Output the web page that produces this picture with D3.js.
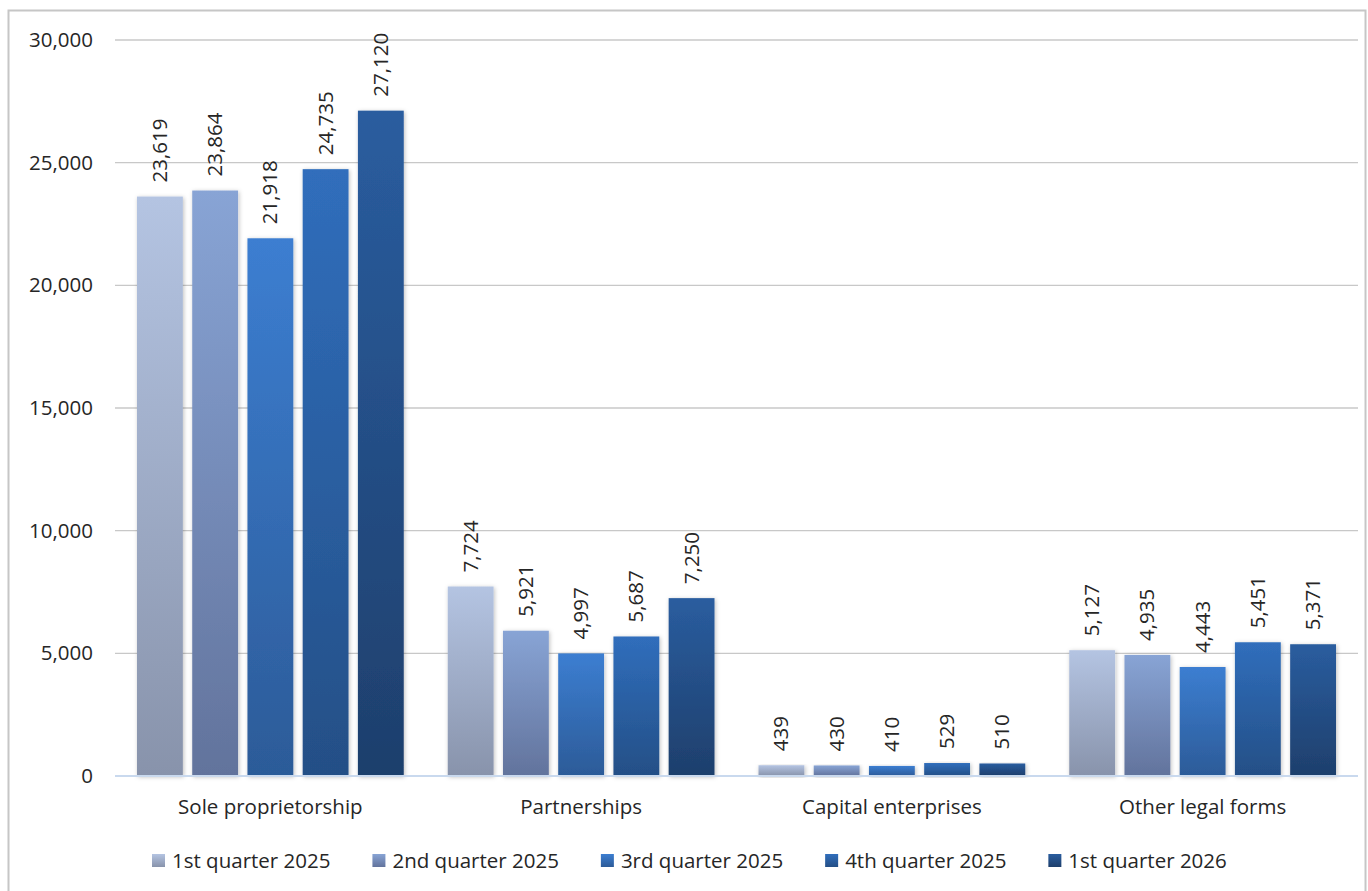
<!DOCTYPE html>
<html>
<head>
<meta charset="utf-8">
<script src="https://cdn.jsdelivr.net/npm/d3@7"></script>
<style>
  body { margin: 0; background: #fff; }
  text { font-family: "Open Sans", "Noto Sans", sans-serif; fill: #262626; }
</style>
</head>
<body>
<svg id="chart" width="1368" height="891"></svg>
<script>
// data
var categories = ["Sole proprietorship", "Partnerships", "Capital enterprises", "Other legal forms"];
var seriesNames = ["1st quarter 2025", "2nd quarter 2025", "3rd quarter 2025", "4th quarter 2025", "1st quarter 2026"];
var q1_2025 = [23619, 7724, 439, 5127];
var q2_2025 = [23864, 5921, 430, 4935];
var q3_2025 = [21918, 4997, 410, 4443];
var q4_2025 = [24735, 5687, 529, 5451];
var q1_2026 = [27120, 7250, 510, 5371];
var yTicks = [0, 5000, 10000, 15000, 20000, 25000, 30000];

var seriesValues = [q1_2025, q2_2025, q3_2025, q4_2025, q1_2026];
// gradient top / bottom per series
var gradTop = ["#b4c4e2", "#88a4d5", "#3c7ed1", "#306ebc", "#2a5d9f"];
var gradBot = ["#8893ab", "#62739c", "#2c5b98", "#244f86", "#1e3f6c"];

var margin = { top: 40, right: 10, bottom: 115, left: 115 },
    width = 1358 - margin.left,
    height = 776 - margin.top;

var svg = d3.select("#chart");
var defs = svg.append("defs");

seriesNames.forEach(function (s, i) {
    var g = defs.append("linearGradient")
        .attr("id", "grad" + i)
        .attr("x1", 0).attr("y1", 0).attr("x2", 0).attr("y2", 1);
    g.append("stop").attr("offset", "0%").attr("stop-color", gradTop[i]);
    g.append("stop").attr("offset", "100%").attr("stop-color", gradBot[i]);
});

var shadow = defs.append("filter").attr("id", "shadow")
    .attr("x", "-30%").attr("y", "-10%").attr("width", "160%").attr("height", "120%");
shadow.append("feDropShadow").attr("dx", 1).attr("dy", 1).attr("stdDeviation", 2)
    .attr("flood-color", "#000").attr("flood-opacity", 0.25);

// frame
svg.append("rect")
    .attr("x", 8.5).attr("y", 10.5)
    .attr("width", 1357).attr("height", 895)
    .attr("fill", "none").attr("stroke", "#c6c6c6").attr("stroke-width", 2);

var chart = svg.append("g")
    .attr("transform", "translate(" + margin.left + "," + margin.top + ")");

var x0 = d3.scaleBand().domain(categories).range([0, width]);
var x1 = d3.scaleBand().domain(d3.range(seriesNames.length))
    .range([22, x0.bandwidth() - 22]).paddingInner(0.17).paddingOuter(0);
var y = d3.scaleLinear().domain([0, 30000]).range([height, 0]);

// gridlines
chart.append("g")
    .selectAll("line")
    .data(yTicks.filter(function (d) { return d > 0; }))
    .enter().append("line")
    .attr("x1", 0).attr("x2", width)
    .attr("y1", function (d) { return y(d); })
    .attr("y2", function (d) { return y(d); })
    .attr("stroke", "#c8c8c8").attr("stroke-width", 1.3);

// y axis
var yAxis = d3.axisLeft(y).tickValues(yTicks).tickSize(0).tickPadding(22)
    .tickFormat(d3.format(","));
chart.append("g")
    .attr("class", "y axis")
    .call(yAxis)
    .call(function (g) { g.select(".domain").remove(); })
    .selectAll("text")
    .style("font-family", null)
    .style("font-size", "20.5px")
    .style("fill", "#262626");
chart.select(".y.axis").attr("font-family", null);

// bars
var groups = chart.selectAll(".grp")
    .data(categories)
    .enter().append("g")
    .attr("class", "grp")
    .attr("transform", function (d) { return "translate(" + x0(d) + ",0)"; });

groups.each(function (cat, ci) {
    var g = d3.select(this);
    seriesValues.forEach(function (vals, si) {
        var v = vals[ci];
        g.append("rect")
            .attr("x", x1(si))
            .attr("y", y(v))
            .attr("width", x1.bandwidth())
            .attr("height", height - y(v))
            .attr("fill", "url(#grad" + si + ")")
            .attr("filter", "url(#shadow)");
        var lx = x1(si) + x1.bandwidth() / 2;
        var ly = y(v) - 14;
        g.append("text")
            .attr("transform", "translate(" + (lx + 7) + "," + ly + ") rotate(-90)")
            .attr("text-anchor", "start")
            .style("font-size", "20.5px")
            .text(d3.format(",")(v));
    });
});

// x axis
chart.append("line")
    .attr("x1", 0).attr("x2", width)
    .attr("y1", height).attr("y2", height)
    .attr("stroke", "#c9d9ee").attr("stroke-width", 2);

chart.append("g")
    .selectAll("text")
    .data(categories)
    .enter().append("text")
    .attr("x", function (d) { return x0(d) + x0.bandwidth() / 2; })
    .attr("y", height + 38)
    .attr("text-anchor", "middle")
    .style("font-size", "20.5px")
    .text(function (d) { return d; });

// legend
var legend = svg.append("g");
var lx0 = 152;
seriesNames.forEach(function (s, i) {
    var lg = legend.append("g").attr("transform", "translate(" + lx0 + ",854)");
    lg.append("rect").attr("x", 0).attr("y", 0).attr("width", 13).attr("height", 13)
        .attr("fill", "url(#grad" + i + ")");
    var t = lg.append("text").attr("x", 20).attr("y", 14)
        .style("font-size", "20.5px")
        .text(s);
    lx0 += 20 + t.node().getComputedTextLength() + 42;
});
</script>
</body>
</html>
